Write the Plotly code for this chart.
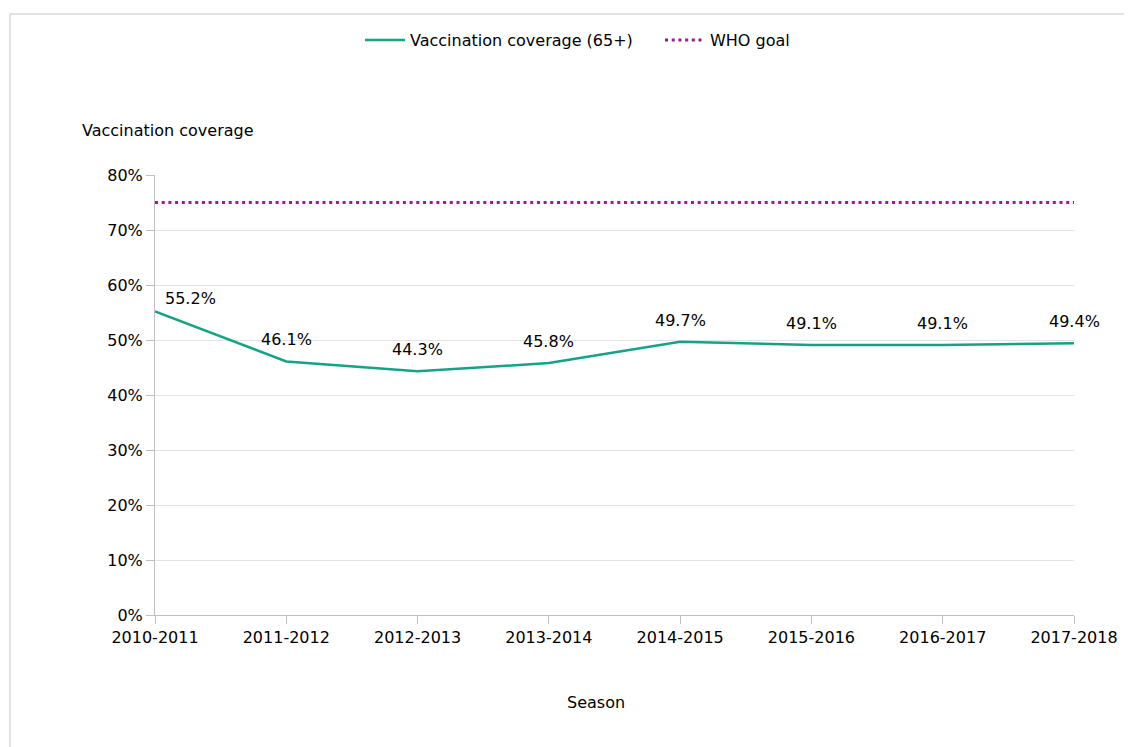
import plotly.graph_objects as go

seasons = ["2010-2011", "2011-2012", "2012-2013", "2013-2014",
           "2014-2015", "2015-2016", "2016-2017", "2017-2018"]
coverage = [55.2, 46.1, 44.3, 45.8, 49.7, 49.1, 49.1, 49.4]
who_goal = [75, 75, 75, 75, 75, 75, 75, 75]
y_ticks = [0, 10, 20, 30, 40, 50, 60, 70, 80]

TEAL = "#14a384"
PURPLE = "#9c1b8e"
FONT = "DejaVu Sans, Verdana, sans-serif"

OFF = 8  # page margin around the figure
W, H = 1132 - OFF, 747 - OFF
L, R, T, B = 155 - OFF, 1074 - OFF, 175 - OFF, 615 - OFF

fig = go.Figure()
fig.add_trace(go.Scatter(
    x=list(range(len(seasons))), y=coverage, mode="lines",
    name="Vaccination coverage (65+)",
    line=dict(color=TEAL, width=2.5), hoverinfo="skip"))
fig.add_trace(go.Scatter(
    x=list(range(len(seasons))), y=who_goal, mode="lines",
    name="WHO goal",
    line=dict(color=PURPLE, width=3, dash="3px,3.7px"), hoverinfo="skip"))

annotations = []
for i, v in enumerate(coverage):
    annotations.append(dict(
        x=i, y=v, xref="x", yref="y", text=f"{v:.1f}%", showarrow=False,
        yanchor="bottom", xanchor="center",
        xshift=35 if i == 0 else 0, yshift=1 if i == 0 else 10,
        font=dict(family=FONT, size=16, color="#000")))

pw, ph = R - L, B - T
annotations.append(dict(
    x=(80 - OFF - L) / pw, y=(B - (131 - OFF)) / ph, xref="paper", yref="paper",
    text="Vaccination coverage", showarrow=False, xanchor="left", yanchor="middle",
    font=dict(family=FONT, size=16, color="#000")))
annotations.append(dict(
    x=(596 - OFF - L) / pw, y=(B - (702 - OFF)) / ph, xref="paper", yref="paper",
    text="Season", showarrow=False, xanchor="center", yanchor="middle",
    font=dict(family=FONT, size=16, color="#000")))

fig.update_layout(
    width=W, height=H,
    margin=dict(l=L, r=W - R, t=T, b=H - B, pad=0),
    paper_bgcolor="white", plot_bgcolor="white",
    font=dict(family=FONT, size=16, color="#000"),
    showlegend=True,
    legend=dict(orientation="h", xref="container", yref="container",
                x=(365 - OFF - 5) / W, y=1 - (40 - OFF) / H,
                xanchor="left", yanchor="middle",
                font=dict(family=FONT, size=16, color="#000"),
                itemwidth=40, entrywidth=245, tracegroupgap=0,
                bgcolor="rgba(0,0,0,0)"),
    xaxis=dict(
        range=[0, len(seasons) - 1], tickmode="array",
        tickvals=list(range(len(seasons))), ticktext=seasons,
        showgrid=False, showline=True, linecolor="#bfbfbf", linewidth=1,
        ticks="outside", ticklen=8, tickcolor="#bfbfbf", zeroline=False,
        tickfont=dict(family=FONT, size=16, color="#000")),
    yaxis=dict(
        range=[0, 80], tickmode="array", tickvals=y_ticks,
        ticktext=[f"{t}%" for t in y_ticks],
        showgrid=True, gridcolor="#e3e3e3", gridwidth=1,
        showline=True, linecolor="#bfbfbf", linewidth=1,
        ticks="outside", ticklen=8, tickcolor="#bfbfbf", zeroline=False,
        tickfont=dict(family=FONT, size=16, color="#000")),
    annotations=annotations,
    shapes=[dict(type="rect", xref="paper", yref="paper",
                 x0=(10 - OFF - L) / pw, x1=(W + 20 - L) / pw,
                 y0=(B - H - 20) / ph, y1=(B - (14 - OFF)) / ph,
                 line=dict(color="#d9d9d9", width=1.5), layer="below")],
)

fig.write_html("out.html")
